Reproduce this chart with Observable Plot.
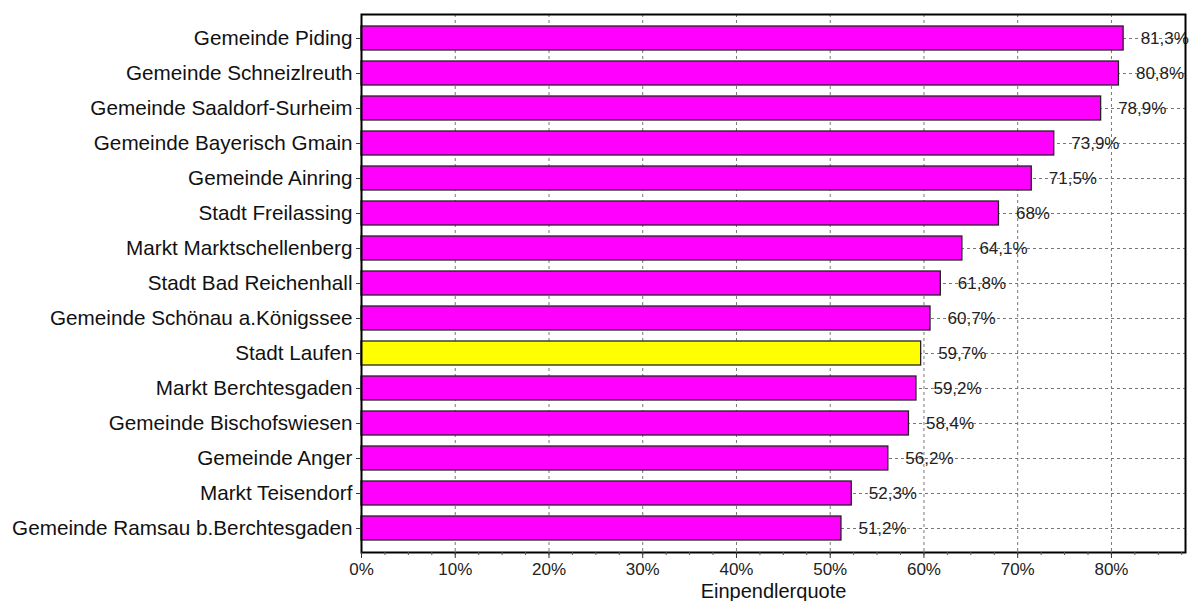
<!DOCTYPE html>
<html>
<head>
<meta charset="utf-8">
<script src="https://cdn.jsdelivr.net/npm/d3@7"></script>
<script src="https://cdn.jsdelivr.net/npm/@observablehq/plot@0.6"></script>
<style>
  html, body { margin: 0; padding: 0; background: #fff; }
  #chart svg { display: block; }
</style>
</head>
<body>
<div id="chart"></div>
<script>
const names = [
  "Gemeinde Piding",
  "Gemeinde Schneizlreuth",
  "Gemeinde Saaldorf-Surheim",
  "Gemeinde Bayerisch Gmain",
  "Gemeinde Ainring",
  "Stadt Freilassing",
  "Markt Marktschellenberg",
  "Stadt Bad Reichenhall",
  "Gemeinde Schönau a.Königssee",
  "Stadt Laufen",
  "Markt Berchtesgaden",
  "Gemeinde Bischofswiesen",
  "Gemeinde Anger",
  "Markt Teisendorf",
  "Gemeinde Ramsau b.Berchtesgaden"
];
const values = [81.3, 80.8, 78.9, 73.9, 71.5, 68, 64.1, 61.8, 60.7, 59.7, 59.2, 58.4, 56.2, 52.3, 51.2];
const highlight = "Stadt Laufen";
const xTicks = [0, 10, 20, 30, 40, 50, 60, 70, 80];
const xMinorTicks = d3.range(0, 88, 2.5);
const axisTitle = "Einpendlerquote";

const data = names.map((n, i) => ({name: n, value: values[i]}));
const fmt = v => String(v).replace(".", ",") + "%";

const chart = Plot.plot({
  width: 1192,
  height: 601,
  marginLeft: 361,
  marginRight: 7,
  marginTop: 14,
  marginBottom: 49,
  style: {fontFamily: "'Liberation Sans', Arial, sans-serif", color: "#000", background: "#fff"},
  x: {domain: [0, 87.9]},
  y: {domain: names, paddingInner: 0.317, paddingOuter: 0.313},
  marks: [
    Plot.gridX(xTicks, {stroke: "#777", strokeOpacity: 1, strokeDasharray: "3,3"}),
    Plot.gridY(names, {stroke: "#777", strokeOpacity: 1, strokeDasharray: "3,3"}),
    Plot.barX(data, {
      x: "value", y: "name",
      fill: d => d.name === highlight ? "#ffff00" : "#ff00ff",
      stroke: "#222", strokeWidth: 1.3
    }),
    Plot.text(data, {
      x: "value", y: "name", text: d => fmt(d.value),
      textAnchor: "start", dx: 17, fontSize: 17, fill: "#222"
    }),
    Plot.frame({stroke: "#000", strokeWidth: 2}),
    Plot.axisY({tickSize: 5, tickPadding: 4, fontSize: 20.7, label: null, stroke: "#333", fill: "#111"}),
    Plot.axisX(xMinorTicks, {tickSize: 3, text: null, label: null, stroke: "#555"}),
    Plot.axisX(xTicks, {
      tickSize: 6, tickPadding: 4, fontSize: 17, stroke: "#333", fill: "#222",
      tickFormat: d => d + "%", label: null
    }),
    Plot.text([axisTitle], {
      frameAnchor: "bottom", lineAnchor: "bottom", dy: 45,
      fontSize: 20, fill: "#111", text: d => d
    })
  ]
});
document.getElementById("chart").append(chart);
</script>
</body>
</html>
